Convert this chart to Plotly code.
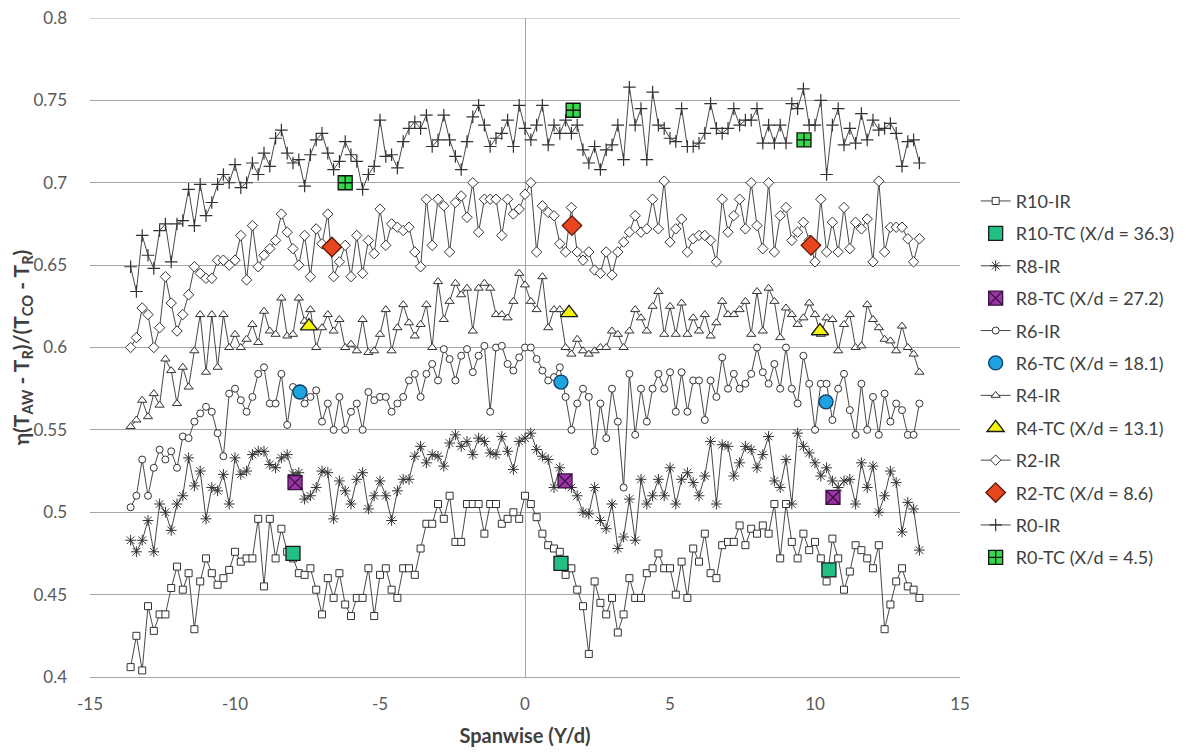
import plotly.graph_objects as go

# Spanwise stations (Y/d), uniform 0.2 spacing from -13.6 to 13.6
Y_D = [round(-13.6 + 0.2 * i, 1) for i in range(137)]

R10_IR = [0.406, 0.425, 0.404, 0.443, 0.428, 0.438, 0.438, 0.454, 0.467, 0.453, 0.463, 0.429, 0.458, 0.472, 0.463, 0.456, 0.46, 0.465, 0.476, 0.47, 0.472, 0.472, 0.496, 0.455, 0.496, 0.472, 0.49, 0.476, 0.472, 0.463, 0.462,
          0.466, 0.453, 0.438, 0.46, 0.448, 0.463, 0.444, 0.437, 0.448, 0.448, 0.466, 0.437, 0.462, 0.466, 0.453, 0.448, 0.466, 0.466, 0.462, 0.478, 0.493, 0.493, 0.505, 0.496, 0.51, 0.482, 0.482, 0.505, 0.505, 0.505, 0.487, 0.505, 0.505, 0.493, 0.496, 0.5, 0.496, 0.51,
          0.505, 0.497, 0.487, 0.48, 0.478, 0.476, 0.462, 0.466, 0.453, 0.443, 0.414, 0.458, 0.445, 0.438, 0.448, 0.427, 0.438, 0.46, 0.448, 0.448, 0.463, 0.466, 0.475, 0.466, 0.466, 0.45, 0.47, 0.448, 0.478, 0.47, 0.487, 0.463, 0.46, 0.48, 0.482, 0.482, 0.492,
          0.48, 0.49, 0.487, 0.492, 0.487, 0.505, 0.472, 0.505, 0.482, 0.472, 0.487, 0.477, 0.482, 0.472, 0.458, 0.484, 0.472, 0.453, 0.464, 0.48, 0.477, 0.472, 0.466, 0.48, 0.429, 0.444, 0.458, 0.466, 0.455, 0.453, 0.448]

R8_IR = [0.483, 0.476, 0.483, 0.495, 0.476, 0.505, 0.5, 0.489, 0.505, 0.51, 0.533, 0.516, 0.525, 0.496, 0.515, 0.513, 0.523, 0.505, 0.533, 0.523, 0.525, 0.535, 0.537, 0.537, 0.529, 0.527, 0.533, 0.535, 0.523, 0.524, 0.508,
         0.51, 0.515, 0.525, 0.524, 0.496, 0.519, 0.513, 0.505, 0.52, 0.524, 0.502, 0.51, 0.519, 0.51, 0.495, 0.513, 0.52, 0.52, 0.534, 0.54, 0.53, 0.535, 0.534, 0.528, 0.542, 0.547, 0.54, 0.543, 0.535, 0.545, 0.543, 0.536, 0.535, 0.546, 0.537, 0.526, 0.543, 0.545,
         0.548, 0.538, 0.534, 0.532, 0.515, 0.527, 0.517, 0.515, 0.51, 0.5, 0.499, 0.515, 0.495, 0.49, 0.505, 0.478, 0.485, 0.508, 0.483, 0.52, 0.505, 0.51, 0.52, 0.51, 0.527, 0.505, 0.52, 0.524, 0.518, 0.51, 0.522, 0.543, 0.505, 0.541, 0.54, 0.522, 0.53,
         0.54, 0.538, 0.527, 0.535, 0.546, 0.519, 0.515, 0.532, 0.505, 0.548, 0.54, 0.536, 0.53, 0.522, 0.527, 0.519, 0.515, 0.519, 0.52, 0.505, 0.53, 0.515, 0.528, 0.5, 0.51, 0.525, 0.518, 0.488, 0.506, 0.502, 0.477]

R6_IR = [0.503, 0.51, 0.532, 0.51, 0.527, 0.538, 0.532, 0.537, 0.527, 0.546, 0.545, 0.555, 0.56, 0.564, 0.561, 0.548, 0.534, 0.572, 0.575, 0.568, 0.561, 0.57, 0.584, 0.588, 0.566, 0.566, 0.584, 0.553, 0.576, 0.575, 0.566,
         0.57, 0.574, 0.555, 0.566, 0.55, 0.57, 0.55, 0.561, 0.566, 0.55, 0.573, 0.568, 0.57, 0.57, 0.561, 0.566, 0.57, 0.58, 0.584, 0.57, 0.584, 0.59, 0.58, 0.599, 0.593, 0.58, 0.595, 0.599, 0.585, 0.595, 0.601, 0.561, 0.6, 0.601, 0.59, 0.586, 0.594, 0.6,
         0.6, 0.593, 0.586, 0.58, 0.582, 0.588, 0.57, 0.55, 0.566, 0.575, 0.57, 0.537, 0.566, 0.545, 0.575, 0.555, 0.515, 0.584, 0.547, 0.575, 0.555, 0.575, 0.584, 0.575, 0.585, 0.561, 0.585, 0.561, 0.58, 0.58, 0.556, 0.58, 0.57, 0.594, 0.575, 0.584, 0.575,
         0.578, 0.584, 0.6, 0.585, 0.578, 0.59, 0.575, 0.6, 0.575, 0.566, 0.595, 0.578, 0.55, 0.578, 0.578, 0.556, 0.575, 0.584, 0.562, 0.547, 0.578, 0.55, 0.57, 0.547, 0.572, 0.555, 0.566, 0.562, 0.547, 0.547, 0.566]

R4_IR = [0.552, 0.556, 0.568, 0.558, 0.572, 0.565, 0.593, 0.586, 0.566, 0.588, 0.576, 0.598, 0.62, 0.585, 0.62, 0.588, 0.62, 0.6, 0.608, 0.6, 0.605, 0.614, 0.603, 0.622, 0.61, 0.608, 0.63, 0.607, 0.608, 0.63, 0.616,
         0.623, 0.6, 0.612, 0.62, 0.61, 0.617, 0.6, 0.602, 0.598, 0.617, 0.597, 0.598, 0.608, 0.623, 0.598, 0.612, 0.626, 0.615, 0.607, 0.614, 0.626, 0.6, 0.64, 0.617, 0.628, 0.639, 0.632, 0.636, 0.61, 0.636, 0.639, 0.636, 0.62, 0.62, 0.618, 0.628, 0.645, 0.638,
         0.628, 0.623, 0.643, 0.612, 0.623, 0.623, 0.6, 0.596, 0.605, 0.598, 0.596, 0.598, 0.6, 0.6, 0.61, 0.608, 0.6, 0.61, 0.623, 0.618, 0.61, 0.625, 0.634, 0.608, 0.625, 0.608, 0.627, 0.608, 0.618, 0.61, 0.62, 0.607, 0.615, 0.628, 0.62, 0.62, 0.623,
         0.628, 0.608, 0.634, 0.61, 0.636, 0.628, 0.606, 0.624, 0.62, 0.614, 0.618, 0.627, 0.62, 0.608, 0.618, 0.617, 0.598, 0.614, 0.62, 0.6, 0.601, 0.626, 0.617, 0.612, 0.605, 0.604, 0.598, 0.613, 0.6, 0.596, 0.585]

R2_IR = [0.6, 0.606, 0.624, 0.62, 0.6, 0.612, 0.643, 0.627, 0.61, 0.62, 0.632, 0.649, 0.645, 0.642, 0.642, 0.653, 0.653, 0.65, 0.653, 0.668, 0.641, 0.674, 0.649, 0.656, 0.66, 0.665, 0.681, 0.67, 0.66, 0.65, 0.668,
         0.643, 0.672, 0.663, 0.681, 0.643, 0.652, 0.662, 0.643, 0.668, 0.645, 0.665, 0.657, 0.684, 0.662, 0.675, 0.673, 0.671, 0.673, 0.658, 0.649, 0.69, 0.662, 0.69, 0.686, 0.658, 0.688, 0.692, 0.679, 0.7, 0.67, 0.69, 0.69, 0.69, 0.668, 0.69, 0.681, 0.684, 0.693,
         0.7, 0.658, 0.686, 0.682, 0.68, 0.663, 0.658, 0.685, 0.658, 0.653, 0.658, 0.647, 0.645, 0.658, 0.644, 0.658, 0.664, 0.67, 0.68, 0.67, 0.672, 0.69, 0.672, 0.701, 0.664, 0.672, 0.678, 0.658, 0.666, 0.668, 0.668, 0.665, 0.652, 0.69, 0.67, 0.68, 0.69,
         0.672, 0.7, 0.674, 0.66, 0.7, 0.658, 0.68, 0.685, 0.665, 0.67, 0.676, 0.665, 0.652, 0.69, 0.658, 0.676, 0.658, 0.685, 0.66, 0.676, 0.672, 0.678, 0.652, 0.701, 0.658, 0.673, 0.673, 0.673, 0.666, 0.652, 0.666]

R0_IR = [0.649, 0.634, 0.668, 0.656, 0.648, 0.671, 0.675, 0.652, 0.675, 0.677, 0.696, 0.674, 0.699, 0.68, 0.688, 0.699, 0.705, 0.7, 0.711, 0.697, 0.7, 0.712, 0.705, 0.718, 0.71, 0.727, 0.732, 0.718, 0.712, 0.714, 0.698,
         0.717, 0.726, 0.73, 0.718, 0.708, 0.713, 0.725, 0.717, 0.713, 0.696, 0.705, 0.71, 0.738, 0.716, 0.717, 0.709, 0.725, 0.733, 0.737, 0.733, 0.741, 0.722, 0.726, 0.741, 0.726, 0.716, 0.708, 0.725, 0.74, 0.747, 0.735, 0.722, 0.727, 0.73, 0.738, 0.722, 0.747, 0.733,
         0.726, 0.735, 0.747, 0.723, 0.735, 0.73, 0.738, 0.73, 0.735, 0.72, 0.712, 0.722, 0.708, 0.72, 0.723, 0.735, 0.714, 0.758, 0.735, 0.745, 0.714, 0.755, 0.735, 0.733, 0.727, 0.725, 0.745, 0.722, 0.722, 0.724, 0.73, 0.748, 0.733, 0.73, 0.733, 0.745, 0.735,
         0.738, 0.738, 0.745, 0.724, 0.735, 0.724, 0.735, 0.724, 0.748, 0.745, 0.757, 0.735, 0.735, 0.75, 0.705, 0.735, 0.745, 0.723, 0.733, 0.724, 0.742, 0.726, 0.738, 0.732, 0.733, 0.736, 0.73, 0.71, 0.725, 0.726, 0.712]

# Thermocouple points
R10_TC_X = [-8.0, 1.24, 10.48]
R10_TC_Y = [0.475, 0.469, 0.465]
R8_TC_X = [-7.93, 1.38, 10.62]
R8_TC_Y = [0.518, 0.519, 0.509]
R6_TC_X = [-7.76, 1.24, 10.38]
R6_TC_Y = [0.573, 0.579, 0.567]
R4_TC_X = [-7.45, 1.52, 10.17]
R4_TC_Y = [0.613, 0.621, 0.61]
R2_TC_X = [-6.66, 1.62, 9.86]
R2_TC_Y = [0.661, 0.674, 0.662]
R0_TC_X = [-6.2, 1.66, 9.62]
R0_TC_Y = [0.7, 0.744, 0.726]

X_TICKS = [-15, -10, -5, 0, 5, 10, 15]
X_TICK_TEXT = ["-15", "-10", "-5", "0", "5", "10", "15"]
Y_TICKS = [0.4, 0.45, 0.5, 0.55, 0.6, 0.65, 0.7, 0.75, 0.8]
Y_TICK_TEXT = ["0.4", "0.45", "0.5", "0.55", "0.6", "0.65", "0.7", "0.75", "0.8"]

LINE = "#333333"
fig = go.Figure()

def ir(name, y, symbol, size, fill="white", lw=1.0):
    fig.add_trace(go.Scatter(
        x=Y_D, y=y, name=name, mode="lines+markers", legendgroup=name,
        line=dict(color=LINE, width=0.9),
        marker=dict(symbol=symbol, size=size, color=fill,
                    line=dict(color=LINE, width=lw))))

def tc(name, x, y, symbol, color, size=14, lc="#1a1a1a", lw=1.3):
    fig.add_trace(go.Scatter(
        x=x, y=y, name=name, mode="markers", legendgroup=name,
        marker=dict(symbol=symbol, size=size, color=color,
                    line=dict(color=lc, width=lw))))

ir("R10-IR", R10_IR, "square", 7)
tc("R10-TC (X/d = 36.3)", R10_TC_X, R10_TC_Y, "square", "#22bf85", size=14)
ir("R8-IR", R8_IR, "asterisk-open", 9, fill=LINE, lw=1.0)
tc("R8-TC (X/d = 27.2)", R8_TC_X, R8_TC_Y, "square-x", "#9b35a5", size=14, lc="#3b0f40")
ir("R6-IR", R6_IR, "circle", 7)
tc("R6-TC (X/d = 18.1)", R6_TC_X, R6_TC_Y, "circle", "#1fa3e0", size=14, lc="#0d3b66")
ir("R4-IR", R4_IR, "triangle-up", 8)
tc("R4-TC (X/d = 13.1)", R4_TC_X, R4_TC_Y, "triangle-up", "#f2f20a", size=15)
ir("R2-IR", R2_IR, "diamond", 8)
tc("R2-TC (X/d = 8.6)", R2_TC_X, R2_TC_Y, "diamond", "#e8461e", size=15, lc="#5a1505")
ir("R0-IR", R0_IR, "cross-thin-open", 9, fill=LINE, lw=1.2)
tc("R0-TC (X/d = 4.5)", R0_TC_X, R0_TC_Y, "square-cross", "#35d84a", size=14, lc="#111111")

FONT = "Lato, 'Open Sans', sans-serif"
fig.update_layout(
    width=1186, height=752,
    margin=dict(l=82, r=234, t=10, b=83, autoexpand=False),
    paper_bgcolor="white", plot_bgcolor="white",
    font=dict(family=FONT, color="#595959", size=17),
    showlegend=True,
    legend=dict(x=1.018, y=0.75, xanchor="left", yanchor="top",
                font=dict(size=18, color="#404040"),
                tracegroupgap=6, itemwidth=30, bgcolor="rgba(0,0,0,0)"),
    xaxis=dict(range=[-15, 15], showgrid=False, automargin=False,
               tickvals=X_TICKS, ticktext=X_TICK_TEXT,
               zeroline=True, zerolinecolor="#a6a6a6", zerolinewidth=1,
               showline=True, linecolor="#a6a6a6", linewidth=1,
               ticks="", ticklabelstandoff=12, ticklabeloverflow="allow",
               tickfont=dict(size=17, color="#595959"),
               title=dict(text="<b>Spanwise (Y/d)</b>", standoff=15,
                          font=dict(size=20, color="#404040"))),
    yaxis=dict(range=[0.4, 0.8], showgrid=True, automargin=False,
               gridcolor="#a6a6a6", gridwidth=1, zeroline=False,
               showline=False, ticks="", ticklabelstandoff=22,
               ticklabeloverflow="allow",
               tickvals=Y_TICKS, ticktext=Y_TICK_TEXT,
               tickfont=dict(size=17, color="#595959"),
               title=dict(text="<b>η(T<sub>AW</sub> - T<sub>R</sub>)/(T<sub>CO</sub> - T<sub>R</sub>)</b>",
                          standoff=0, font=dict(size=21, color="#404040"))),
)
fig.add_shape(type="line", xref="paper", yref="y", x0=0, x1=1, y0=0.8, y1=0.8,
              line=dict(color="#a6a6a6", width=1), layer="below")

fig.write_html("out.html")
